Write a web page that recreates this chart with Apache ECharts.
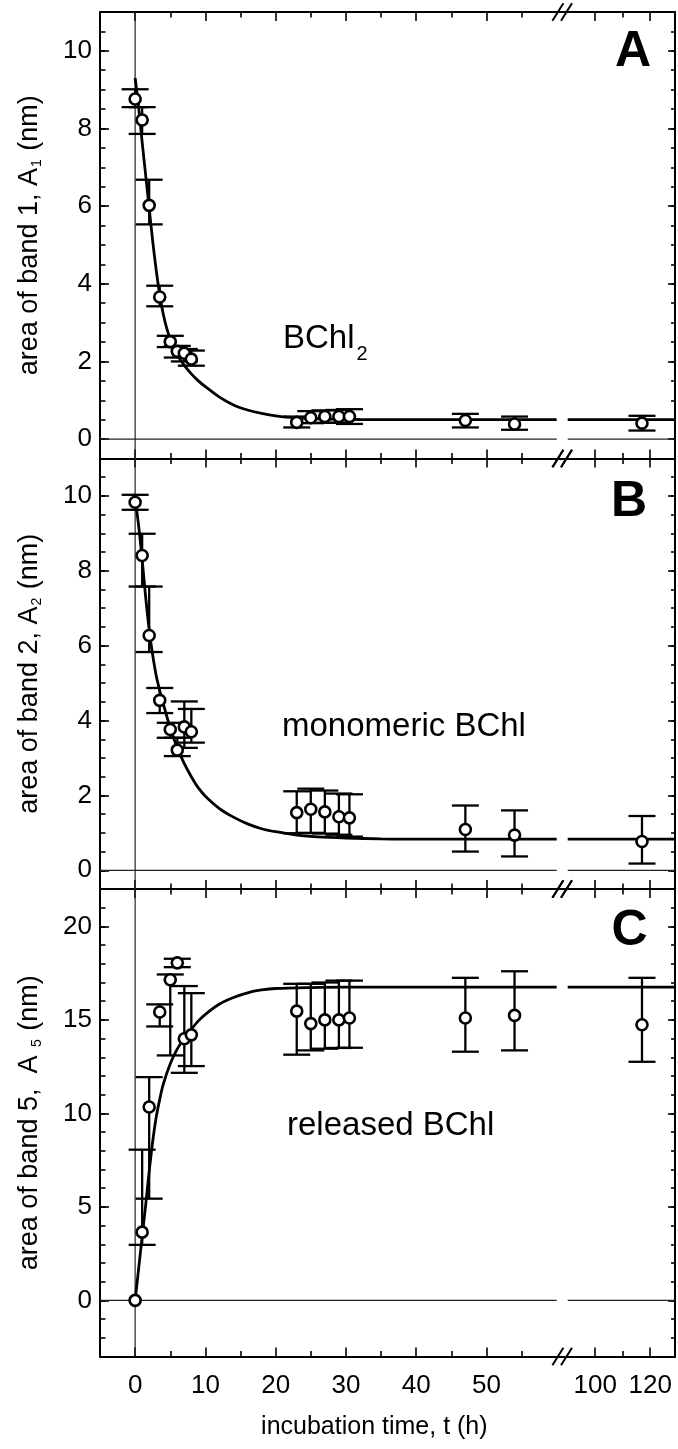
<!DOCTYPE html>
<html><head><meta charset="utf-8">
<script src="https://cdn.jsdelivr.net/npm/echarts@6/dist/echarts.min.js"></script>
<style>html,body{margin:0;padding:0;background:#fff}#c{width:678px;height:1449px}</style>
</head><body><div id="c"></div>
<script>
const FONT = "'Liberation Sans', Arial, Helvetica, sans-serif";

// ---- time points (h) ----
const tLeft = [0, 1, 2, 3.5, 5, 6, 7, 8, 23, 25, 27, 29, 30.5, 47, 54];
const tRight = [117];

// ---- panel A : band 1 ----
const aY    = [8.76, 8.22, 6.02, 3.66, 2.51, 2.26, 2.21, 2.06, 0.43, 0.55, 0.58, 0.58, 0.58, 0.48, 0.39];
const aLow  = [8.55, 7.86, 5.53, 3.42, 2.37, 2.10, 2.00, 1.89, 0.30, 0.41, 0.42, 0.42, 0.39, 0.30, 0.24];
const aHigh = [9.01, 8.55, 6.68, 3.95, 2.66, 2.40, 2.32, 2.28, 0.58, 0.72, 0.74, 0.75, 0.77, 0.65, 0.58];
const aYR = [0.41], aLowR = [0.22], aHighR = [0.60];

// ---- panel B : band 2 ----
const bY    = [9.83, 8.41, 6.27, 4.54, 3.76, 3.21, 3.83, 3.70, 1.54, 1.63, 1.56, 1.43, 1.40, 1.09, 0.94];
const bLow  = [9.63, 7.58, 5.83, 4.20, 3.54, 3.05, 3.27, 3.41, 0.99, 1.00, 0.98, 0.95, 0.90, 0.50, 0.37];
const bHigh = [10.03, 8.99, 7.58, 4.87, 3.94, 3.54, 4.51, 4.31, 2.11, 2.18, 2.13, 2.05, 2.03, 1.73, 1.60];
const bYR = [0.77], bLowR = [0.18], bHighR = [1.45];

// ---- panel C : band 5 ----
const cY    = [0, 3.65, 10.34, 15.42, 17.15, 18.05, 13.99, 14.20, 15.47, 14.80, 15.00, 15.00, 15.10, 15.10, 15.24];
const cLow  = [0, 2.97, 5.44, 14.65, 13.10, 17.82, 12.17, 12.53, 13.14, 13.37, 13.46, 13.50, 13.51, 13.30, 13.37];
const cHigh = [0, 8.06, 11.94, 15.83, 17.43, 18.27, 16.81, 16.43, 16.93, 16.93, 17.00, 17.10, 17.10, 17.25, 17.60];
const cYR = [14.74], cLowR = [12.76], cHighR = [17.25];

// ---- fitted curves ----
const fitTA = [0, 0.5, 1, 1.5, 2, 2.5, 3, 3.5, 4, 4.5, 5, 6, 7, 8, 9, 10, 12, 14, 16, 18, 20, 22, 25, 28, 32, 40, 50, 60];
const fitA  = [9.3, 8.55, 7.65, 6.8, 5.95, 5.1, 4.35, 3.72, 3.22, 2.85, 2.57, 2.17, 1.9, 1.68, 1.5, 1.35, 1.08, 0.88, 0.75, 0.66, 0.6, 0.56, 0.53, 0.515, 0.505, 0.5, 0.5, 0.5];
const fitTB = [0, 0.5, 1, 1.5, 2, 2.5, 3, 3.5, 4, 5, 6, 7, 8, 9, 10, 12, 14, 16, 18, 20, 23, 26, 30, 35, 40, 50, 60];
const fitB  = [9.95, 9.2, 8.3, 7.3, 6.42, 5.75, 5.2, 4.8, 4.45, 3.8, 3.27, 2.85, 2.5, 2.2, 1.98, 1.65, 1.42, 1.24, 1.11, 1.03, 0.94, 0.89, 0.86, 0.84, 0.83, 0.83, 0.83];
const fitTC = [0, 0.5, 1, 1.5, 2, 2.5, 3, 3.5, 4, 5, 6, 7, 8, 9, 10, 12, 14, 16, 18, 20, 25, 30, 40, 60];
const fitC  = [0, 1.7, 3.4, 5.1, 6.9, 8.5, 9.8, 10.75, 11.55, 12.65, 13.45, 14.0, 14.5, 14.95, 15.3, 15.85, 16.2, 16.45, 16.6, 16.68, 16.73, 16.75, 16.75, 16.75];
const fitTRight = [90, 129];
const fitAR = [0.5, 0.5];
const fitBR = [0.83, 0.83];
const fitCR = [16.75, 16.75];

// ---- axes ----
const xRangeLeft = [-5, 60];
const xRangeRight = [86, 129];
const breakAt = [88];
const xMajorLeft = [0, 10, 20, 30, 40, 50];
const xMinorLeft = [5, 15, 25, 35, 45, 55];
const xMajorRight = [100, 120];
const xMinorRight = [110];
const yMajorAB = [0, 2, 4, 6, 8, 10];
const yMinorAB = [-0.5, 0, 0.5, 1, 1.5, 2, 2.5, 3, 3.5, 4, 4.5, 5, 5.5, 6, 6.5, 7, 7.5, 8, 8.5, 9, 9.5, 10, 10.5, 11];
const yMajorC = [0, 5, 10, 15, 20];
const yMinorC = [-3, -2, -1, 0, 1, 2, 3, 4, 5, 6, 7, 8, 9, 10, 11, 12, 13, 14, 15, 16, 17, 18, 19, 20, 21, 22];

const richSub = {
  m: { fontSize: 27, fontFamily: FONT, color: '#000', verticalAlign: 'top' },
  s: { fontSize: 14, fontFamily: FONT, color: '#000', verticalAlign: 'bottom', padding: [14, 1, 0, 1] }
};

const panels = [
  { top: 12, height: 446.5, ymin: -0.5, ymax: 11, yMajor: yMajorAB, yMinor: yMinorAB,
    name: '{m|area of band 1, A}{s|1}{m| (nm)}',
    y: aY, lo: aLow, hi: aHigh, yR: aYR, loR: aLowR, hiR: aHighR, fitT: fitTA, fit: fitA, fitR: fitAR },
  { top: 458.5, height: 430.5, ymin: -0.5, ymax: 11, yMajor: yMajorAB, yMinor: yMinorAB,
    name: '{m|area of band 2, A}{s|2}{m| (nm)}',
    y: bY, lo: bLow, hi: bHigh, yR: bYR, loR: bLowR, hiR: bHighR, fitT: fitTB, fit: fitB, fitR: fitBR },
  { top: 889, height: 467.5, ymin: -3, ymax: 22, yMajor: yMajorC, yMinor: yMinorC,
    name: '{m|area of band 5,  A }{s|5}{m| (nm)}',
    y: cY, lo: cLow, hi: cHigh, yR: cYR, loR: cLowR, hiR: cHighR, fitT: fitTC, fit: fitC, fitR: fitCR }
];

const BLACK = '#000';
const frameLine = { show: true, onZero: false, lineStyle: { color: BLACK, width: 2 } };
const noLine = { show: false, onZero: false };
const tick = (vals, len) => ({ show: true, inside: true, length: len, customValues: vals, lineStyle: { color: BLACK, width: 1.6 } });

const grids = [], xAxes = [], yAxes = [], series = [];
const addX = o => { xAxes.push(o); return xAxes.length - 1; };
const addY = o => { yAxes.push(o); return yAxes.length - 1; };

function errSeries(xi, yi, pts) {
  return {
    type: 'custom', xAxisIndex: xi, yAxisIndex: yi, z: 3, silent: true, clip: false,
    encode: { x: 0, y: [1, 2] },
    data: pts,
    renderItem: (params, api) => {
      const x = api.value(0), lo = api.value(1), hi = api.value(2);
      const a = api.coord([x, lo]), b = api.coord([x, hi]);
      const hw = 13.5;
      const st = { stroke: BLACK, lineWidth: 2.3 };
      return { type: 'group', children: [
        { type: 'line', shape: { x1: a[0], y1: a[1], x2: b[0], y2: b[1] }, style: st },
        { type: 'line', shape: { x1: a[0] - hw, y1: a[1], x2: a[0] + hw, y2: a[1] }, style: st },
        { type: 'line', shape: { x1: b[0] - hw, y1: b[1], x2: b[0] + hw, y2: b[1] }, style: st }
      ]};
    }
  };
}

panels.forEach((p, pi) => {
  const isLast = pi === panels.length - 1;
  const gL = grids.length;
  grids.push({ left: 100, top: p.top, width: 456.7, height: p.height, containLabel: false, outerBoundsMode: 'none' });
  const gR = grids.length;
  grids.push({ left: 556.7, top: p.top, width: 118.3, height: p.height, containLabel: false, outerBoundsMode: 'none' });

  const segs = [
    { g: gL, range: xRangeLeft, major: xMajorLeft, minor: xMinorLeft, left: true },
    { g: gR, range: xRangeRight, major: xMajorRight, minor: xMinorRight, left: false }
  ];
  segs.forEach(s => {
    const base = { type: 'value', gridIndex: s.g, min: s.range[0], max: s.range[1], splitLine: { show: false } };
    s.xi = addX(Object.assign({}, base, {
      position: 'bottom', axisLine: frameLine, axisTick: tick(s.major, 9),
      axisLabel: { show: isLast, customValues: s.major, color: BLACK, fontSize: 26, fontFamily: FONT, margin: 16 },
      name: (isLast && s.left) ? 'incubation time, t (h)' : '',
      nameLocation: 'middle', nameGap: 58,
      nameTextStyle: { color: BLACK, fontSize: 25, fontFamily: FONT, padding: [0, 0, 0, 92] }
    }));
    addX(Object.assign({}, base, { position: 'bottom', axisLine: noLine, axisTick: tick(s.minor, 5.5), axisLabel: { show: false } }));
    addX(Object.assign({}, base, { position: 'top', axisLine: frameLine, axisTick: tick(s.major, 9), axisLabel: { show: false } }));
    addX(Object.assign({}, base, { position: 'top', axisLine: noLine, axisTick: tick(s.minor, 5.5), axisLabel: { show: false } }));
  });

  const yBase = { type: 'value', min: p.ymin, max: p.ymax, splitLine: { show: false } };
  const yL = addY(Object.assign({}, yBase, {
    gridIndex: gL, position: 'left', axisLine: frameLine, axisTick: tick(p.yMajor, 9),
    axisLabel: { customValues: p.yMajor, color: BLACK, fontSize: 26, fontFamily: FONT, margin: 8 },
    name: p.name, nameLocation: 'middle', nameRotate: 90, nameGap: 56,
    nameTextStyle: { color: BLACK, fontSize: 27, fontFamily: FONT, rich: richSub }
  }));
  addY(Object.assign({}, yBase, { gridIndex: gL, position: 'left', axisLine: noLine, axisTick: tick(p.yMinor, 5.5), axisLabel: { show: false } }));
  const yR = addY(Object.assign({}, yBase, { gridIndex: gR, position: 'right', axisLine: frameLine, axisTick: tick(p.yMajor, 7), axisLabel: { show: false } }));
  addY(Object.assign({}, yBase, { gridIndex: gR, position: 'right', axisLine: noLine, axisTick: tick(p.yMinor, 4), axisLabel: { show: false } }));

  const xL = segs[0].xi, xR = segs[1].xi;
  const thin = { color: '#222', width: 1.2 };

  // zero lines
  series.push({ type: 'line', xAxisIndex: xL, yAxisIndex: yL, data: [[xRangeLeft[0], 0], [xRangeLeft[1], 0]], symbol: 'none', lineStyle: thin, silent: true, z: 1 });
  series.push({ type: 'line', xAxisIndex: xR, yAxisIndex: yR, data: [[fitTRight[0], 0], [fitTRight[1], 0]], symbol: 'none', lineStyle: thin, silent: true, z: 1 });
  series.push({ type: 'line', xAxisIndex: xL, yAxisIndex: yL, data: [[0, p.ymin], [0, p.ymax]], symbol: 'none', lineStyle: thin, silent: true, z: 1 });

  // fitted curves
  series.push({ type: 'line', xAxisIndex: xL, yAxisIndex: yL, data: p.fitT.map((t, i) => [t, p.fit[i]]),
    symbol: 'none', smooth: 0.3, lineStyle: { color: BLACK, width: 2.8 }, silent: true, z: 2 });
  series.push({ type: 'line', xAxisIndex: xR, yAxisIndex: yR, data: fitTRight.map((t, i) => [t, p.fitR[i]]),
    symbol: 'none', lineStyle: { color: BLACK, width: 2.8 }, silent: true, z: 2 });

  // error bars
  series.push(errSeries(xL, yL, tLeft.map((t, i) => [t, p.lo[i], p.hi[i]]).filter(d => d[2] > d[1])));
  series.push(errSeries(xR, yR, tRight.map((t, i) => [t, p.loR[i], p.hiR[i]])));

  // points
  const sym = { symbol: 'circle', symbolSize: 11, itemStyle: { color: '#fff', opacity: 1, borderColor: BLACK, borderWidth: 2.6 }, silent: true, z: 4 };
  series.push(Object.assign({ type: 'scatter', xAxisIndex: xL, yAxisIndex: yL, data: tLeft.map((t, i) => [t, p.y[i]]) }, sym));
  series.push(Object.assign({ type: 'scatter', xAxisIndex: xR, yAxisIndex: yR, data: tRight.map((t, i) => [t, p.yR[i]]) }, sym));

  // axis-break marks
  series.push({
    type: 'custom', xAxisIndex: xR, yAxisIndex: yR, silent: true, clip: false, z: 5,
    encode: { x: 0, y: 1 },
    data: [[breakAt[0], p.ymin]],
    renderItem: (params, api) => {
      const bx = api.value(0);
      const top = api.coord([bx, p.ymax]), bot = api.coord([bx, p.ymin]);
      const mk = c => [-4.3, 4.3].map(off => ({ type: 'line',
        shape: { x1: c[0] + off - 5.5, y1: c[1] + 8.7, x2: c[0] + off + 5.5, y2: c[1] - 8.7 },
        style: { stroke: BLACK, lineWidth: 2 } }));
      return { type: 'group', children: mk(top).concat(mk(bot)) };
    }
  });
});

const chart = echarts.init(document.getElementById('c'), null, { renderer: 'canvas' });
chart.setOption({
  animation: false,
  backgroundColor: '#fff',
  grid: grids,
  xAxis: xAxes,
  yAxis: yAxes,
  series: series,
  graphic: [
    { type: 'text', x: 633, y: 52.5, style: { text: 'A', fontSize: 50, fontWeight: 'bold', fontFamily: FONT, fill: BLACK, align: 'center', verticalAlign: 'middle' } },
    { type: 'text', x: 629, y: 502.5, style: { text: 'B', fontSize: 50, fontWeight: 'bold', fontFamily: FONT, fill: BLACK, align: 'center', verticalAlign: 'middle' } },
    { type: 'text', x: 629.5, y: 931.5, style: { text: 'C', fontSize: 50, fontWeight: 'bold', fontFamily: FONT, fill: BLACK, align: 'center', verticalAlign: 'middle' } },
    { type: 'text', x: 283, y: 322.5, style: { text: '{m|BChl}{s|2}', fontFamily: FONT, fontSize: 33, fill: BLACK, align: 'left', verticalAlign: 'top',
        rich: { m: { fontSize: 33, fontFamily: FONT, color: BLACK, verticalAlign: 'top' },
                s: { fontSize: 20, fontFamily: FONT, color: BLACK, verticalAlign: 'bottom', padding: [22, 0, 0, 2] } } } },
    { type: 'text', x: 282, y: 727, style: { text: 'monomeric BChl', fontSize: 33, fontFamily: FONT, fill: BLACK, align: 'left', verticalAlign: 'middle' } },
    { type: 'text', x: 287, y: 1126, style: { text: 'released BChl', fontSize: 33, fontFamily: FONT, fill: BLACK, align: 'left', verticalAlign: 'middle' } }
  ]
});
</script></body></html>
